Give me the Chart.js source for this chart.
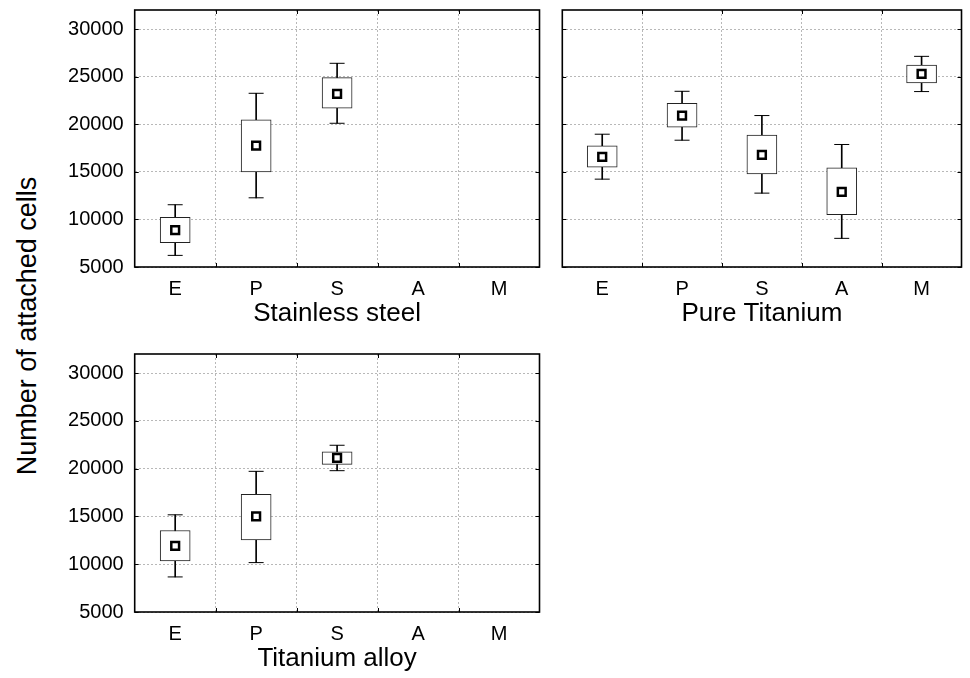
<!DOCTYPE html>
<html>
<head>
<meta charset="utf-8">
<script src="https://cdn.jsdelivr.net/npm/chart.js@4.4.0/dist/chart.umd.min.js"></script>
<style>
  html, body { margin: 0; padding: 0; background: #fff; overflow: hidden; }
  #page { position: relative; width: 970px; height: 678px; font-family: 'Liberation Sans', Arial, sans-serif; }
  .panel { position: absolute; }
  #ytitle {
    position: absolute; left: 27px; top: 326px;
    transform: translate(-50%, -50%) rotate(-90deg);
    font-size: 27px; line-height: 1; white-space: nowrap; color: #000;
  }
</style>
</head>
<body>
<div id="page">
  <div id="ytitle">Number of attached cells</div>
  <div class="panel" style="left:0;top:0;width:548px;height:329px"><canvas id="steel"></canvas></div>
  <div class="panel" style="left:548px;top:0;width:422px;height:329px"><canvas id="pureTi"></canvas></div>
  <div class="panel" style="left:0;top:344px;width:548px;height:330px"><canvas id="alloy"></canvas></div>
</div>
<script>
// Categories and y ticks
const categories = ['E', 'P', 'S', 'A', 'M'];
const yTicks = [5000, 10000, 15000, 20000, 25000, 30000];

// Stainless steel
const steelMean      = [8880, 17760, 23180, null, null];
const steelBoxLow    = [7550, 15000, 21680, null, null];
const steelBoxHigh   = [10210, 20450, 24900, null, null];
const steelWhiskLow  = [6220, 12270, 20100, null, null];
const steelWhiskHigh = [11540, 23250, 26400, null, null];

// Pure titanium
const pureMean      = [16570, 20910, 16780, 12900, 25280];
const pureBoxLow    = [15490, 19690, 14790, 10490, 24340];
const pureBoxHigh   = [17730, 22200, 18850, 15420, 26220];
const pureWhiskLow  = [14230, 18320, 12760, 8010, 23430];
const pureWhiskHigh = [18950, 23460, 20910, 17870, 27130];

// Titanium alloy
const alloyMean      = [11920, 15000, 21120, null, null];
const alloyBoxLow    = [10350, 12550, 20450, null, null];
const alloyBoxHigh   = [13530, 17310, 21750, null, null];
const alloyWhiskLow  = [8670, 10170, 19790, null, null];
const alloyWhiskHigh = [15170, 19720, 22450, null, null];

const FONT = "'Liberation Sans', Arial, Helvetica, sans-serif";

// Frame around the plot area plus small inward tick marks
const framePlugin = {
  id: 'frame',
  afterDraw(chart) {
    const { ctx, chartArea: a, scales } = chart;
    ctx.save();
    ctx.strokeStyle = '#000';
    ctx.lineWidth = 1;
    // inward ticks on y
    yTicks.forEach(v => {
      const y = Math.round(scales.y.getPixelForValue(v)) + 0.5;
      ctx.beginPath();
      ctx.moveTo(a.left, y); ctx.lineTo(a.left + 4, y);
      ctx.moveTo(a.right, y); ctx.lineTo(a.right - 4, y);
      ctx.stroke();
    });
    // inward ticks on x at category boundaries
    for (let i = 0; i < categories.length - 1; i++) {
      const x = Math.round((scales.x.getPixelForValue(i) + scales.x.getPixelForValue(i + 1)) / 2) + 0.5;
      ctx.beginPath();
      ctx.moveTo(x, a.bottom); ctx.lineTo(x, a.bottom - 4);
      ctx.moveTo(x, a.top); ctx.lineTo(x, a.top + 4);
      ctx.stroke();
    }
    ctx.lineWidth = 1.6;
    ctx.strokeRect(a.left, a.top, a.right - a.left, a.bottom - a.top);
    ctx.restore();
  }
};

const pairs = (low, high) => low.map((v, i) => (v == null ? null : [v, high[i]]));

const makePanel = (canvasId, title, mean, boxLow, boxHigh, whiskLow, whiskHigh, yWidth, padRight) => {
  const ctx = document.getElementById(canvasId);
  return new Chart(ctx, {
    type: 'bar',
    data: {
      labels: categories,
      datasets: [
        {
          // whisker stem
          type: 'bar',
          data: pairs(whiskLow, whiskHigh),
          backgroundColor: '#000',
          barThickness: 1,
          grouped: false,
          order: 4
        },
        {
          // box
          type: 'bar',
          data: pairs(boxLow, boxHigh),
          backgroundColor: '#fff',
          borderColor: '#222',
          borderWidth: 1,
          borderSkipped: false,
          barThickness: 30,
          grouped: false,
          order: 3
        },
        {
          // lower cap
          type: 'line',
          data: whiskLow,
          showLine: false,
          pointStyle: 'line',
          pointRadius: 7.5,
          pointBorderColor: '#000',
          pointBorderWidth: 1,
          order: 2
        },
        {
          // upper cap
          type: 'line',
          data: whiskHigh,
          showLine: false,
          pointStyle: 'line',
          pointRadius: 7.5,
          pointBorderColor: '#000',
          pointBorderWidth: 1,
          order: 2
        },
        {
          // mean
          type: 'line',
          data: mean,
          showLine: false,
          pointStyle: 'rect',
          pointRadius: 5.5,
          pointBorderColor: '#000',
          pointBackgroundColor: '#fff',
          pointBorderWidth: 2.5,
          order: 0
        }
      ]
    },
    options: {
      responsive: true,
      maintainAspectRatio: false,
      animation: false,
      events: [],
      layout: { padding: { top: 10, right: padRight, left: 0, bottom: 0 } },
      plugins: {
        legend: { display: false },
        tooltip: { enabled: false }
      },
      scales: {
        x: {
          grid: { color: '#b8b8b8', drawTicks: false, offset: true },
          border: { display: false, dash: [2, 2] },
          ticks: { color: '#000', font: { size: 20, family: FONT }, padding: 10 },
          title: {
            display: true,
            text: title,
            color: '#000',
            font: { size: 26, family: FONT },
            padding: { top: 0, bottom: 0 }
          },
          afterFit: (axis) => { axis.height = 62; }
        },
        y: {
          min: 5000,
          max: 32000,
          afterBuildTicks: (axis) => { axis.ticks = yTicks.map(v => ({ value: v })); },
          afterFit: (axis) => {
            axis.width = yWidth;
            axis.paddingTop = 0;
            axis.paddingBottom = 0;
          },
          grid: { color: '#b8b8b8', drawTicks: false },
          border: { display: false, dash: [2, 2] },
          ticks: {
            display: yWidth > 50,
            color: '#000',
            font: { size: 20, family: FONT },
            padding: 11,
            callback: (v) => String(v)
          }
        }
      }
    },
    plugins: [framePlugin]
  });
};

makePanel('steel', 'Stainless steel', steelMean, steelBoxLow, steelBoxHigh, steelWhiskLow, steelWhiskHigh, 134.7, 8);
makePanel('pureTi', 'Pure Titanium', pureMean, pureBoxLow, pureBoxHigh, pureWhiskLow, pureWhiskHigh, 14.3, 2);
makePanel('alloy', 'Titanium alloy', alloyMean, alloyBoxLow, alloyBoxHigh, alloyWhiskLow, alloyWhiskHigh, 134.7, 8);
</script>
</body>
</html>
